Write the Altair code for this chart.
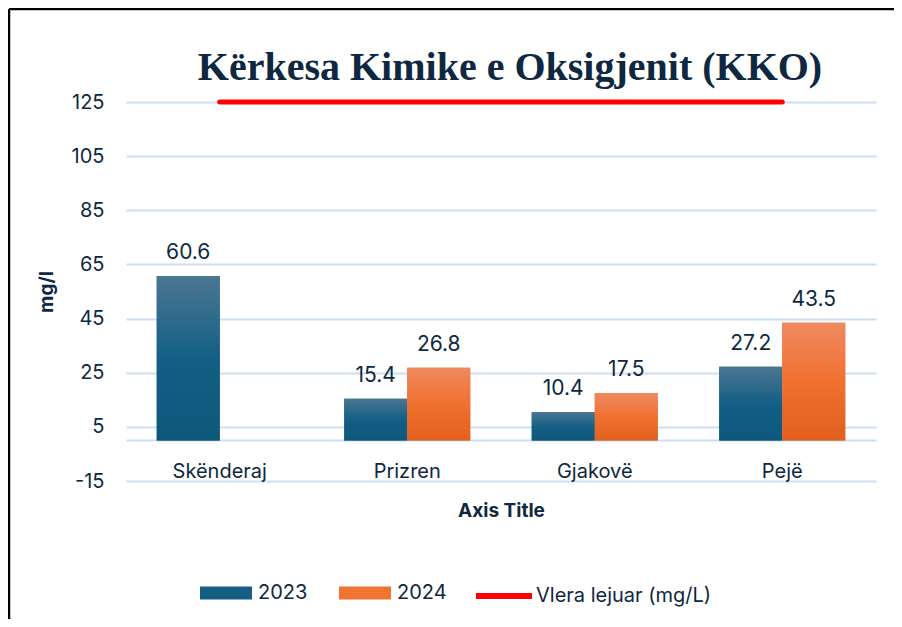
import altair as alt
import pandas as pd

# ---- data ----
categories = ["Skënderaj", "Prizren", "Gjakovë", "Pejë"]
years = ["2023", "2024"]
values_2023 = [60.6, 15.4, 10.4, 27.2]
values_2024 = [None, 26.8, 17.5, 43.5]
limit_values = [125, 125, 125, 125]
limit_label = "Vlera lejuar (mg/L)"
y_ticks = [-15, 5, 25, 45, 65, 85, 105, 125]

rows = []
for c, v in zip(categories, values_2023):
    if v is not None:
        rows.append({"cat": c, "year": "2023", "value": v})
for c, v in zip(categories, values_2024):
    if v is not None:
        rows.append({"cat": c, "year": "2024", "value": v})
bars_df = pd.DataFrame(rows)
limit_df = pd.DataFrame({"cat": categories, "limit": limit_values, "label": [limit_label] * len(categories)})
frame_df = pd.DataFrame({"a": [0]})

NAVY = "#0e2841"
GRID = "#cddff2"
SANS = "Inter"

x_enc = alt.X("cat:N", sort=categories,
              scale=alt.Scale(domain=categories, paddingInner=0, paddingOuter=0),
              axis=alt.Axis(title="Axis Title", labelAngle=0, ticks=False, offset=-41,
                            domainColor=GRID, domainWidth=2, labelPadding=21,
                            titlePadding=20, labelFont=SANS, labelFontSize=20,
                            labelColor=NAVY, titleFont=SANS, titleFontSize=19,
                            titleFontWeight="bold", titleColor=NAVY))
xoff_enc = alt.XOffset("year:N", scale=alt.Scale(domain=years, paddingInner=0, paddingOuter=0.488))
y_scale = alt.Scale(domain=[-15, 125], nice=False, zero=False)
y_enc = alt.Y("value:Q", scale=y_scale,
              axis=alt.Axis(title="mg/l", values=y_ticks, ticks=False, domain=False,
                            labelExpr="toString(datum.value)",
                            grid=True, gridColor=GRID, gridWidth=2, labelPadding=22,
                            labelFont=SANS, labelFontSize=20, labelColor=NAVY,
                            titleFont=SANS, titleFontSize=19, titleFontWeight="bold",
                            titleColor=NAVY, titlePadding=15))

base = alt.Chart(bars_df)

# solid underlay carrying the legend
under = base.mark_bar().encode(
    x=x_enc, xOffset=xoff_enc, y=y_enc, y2=alt.datum(0),
    fill=alt.Fill("year:N", scale=alt.Scale(domain=years, range=["#155f84", "#ef7331"]),
                  legend=alt.Legend(title=None, orient="none", legendX=74, legendY=465,
                                    direction="horizontal",
                                    symbolType="M-1,-0.25H1V0.25H-1Z", symbolSize=2704,
                                    symbolStrokeWidth=0, symbolOpacity=1,
                                    labelFont=SANS, labelFontSize=20, labelColor=NAVY,
                                    labelOffset=6, columnPadding=31)),
)

grad_2023 = alt.LinearGradient(gradient="linear", x1=0, x2=0, y1=0, y2=1, stops=[
    alt.GradientStop(offset=0, color="#4c7692"),
    alt.GradientStop(offset=0.5, color="#135f85"),
    alt.GradientStop(offset=1, color="#0d587a")])
grad_2024 = alt.LinearGradient(gradient="linear", x1=0, x2=0, y1=0, y2=1, stops=[
    alt.GradientStop(offset=0, color="#ee8a5f"),
    alt.GradientStop(offset=0.5, color="#f07030"),
    alt.GradientStop(offset=1, color="#e1601e")])

g23 = base.mark_bar(color=grad_2023).encode(
    x=x_enc, xOffset=xoff_enc, y=y_enc, y2=alt.datum(0)
).transform_filter(alt.datum.year == "2023")
g24 = base.mark_bar(color=grad_2024).encode(
    x=x_enc, xOffset=xoff_enc, y=y_enc, y2=alt.datum(0)
).transform_filter(alt.datum.year == "2024")

labels = base.mark_text(dy=-17, baseline="alphabetic", font=SANS, fontSize=21, color=NAVY).encode(
    x=x_enc, xOffset=xoff_enc, y=y_enc, text=alt.Text("value:Q", format=".1f"))

limit_line = alt.Chart(limit_df).mark_line(strokeWidth=5, strokeCap="round").encode(
    x=x_enc, y=alt.Y("limit:Q", scale=y_scale),
    stroke=alt.Stroke("label:N", scale=alt.Scale(domain=[limit_label], range=["#ff0000"]),
                      legend=alt.Legend(title=None, orient="none", legendX=347, legendY=463,
                                        symbolType="stroke", symbolSize=3136,
                                        symbolStrokeWidth=6, labelFont=SANS,
                                        labelFontSize=20, labelColor=NAVY, labelOffset=1,
                                        labelLimit=400)))

frame_left = alt.Chart(frame_df).mark_rule(color="black", strokeWidth=2.5).encode(
    x=alt.value(-117), y=alt.value(-93), y2=alt.value(520))
frame_top = alt.Chart(frame_df).mark_rule(color="black", strokeWidth=2.5).encode(
    x=alt.value(-117), x2=alt.value(770), y=alt.value(-93))

chart = alt.layer(under, g23, g24, labels, limit_line, frame_left, frame_top).resolve_scale(
    fill="independent", stroke="independent"
).properties(
    width=750, height=379,
    title=alt.TitleParams("Kërkesa Kimike e Oksigjenit (KKO)", font="Liberation Serif",
                          fontSize=40, fontWeight="bold", color=NAVY, anchor="middle",
                          offset=-80, dx=9),
    autosize=alt.AutoSizeParams(type="none"),
    padding={"left": 118, "top": 94, "right": 18, "bottom": 138},
    background="white",
).configure_view(stroke=None)

chart.save("out.html", embed_options={"renderer": "svg", "actions": False})
